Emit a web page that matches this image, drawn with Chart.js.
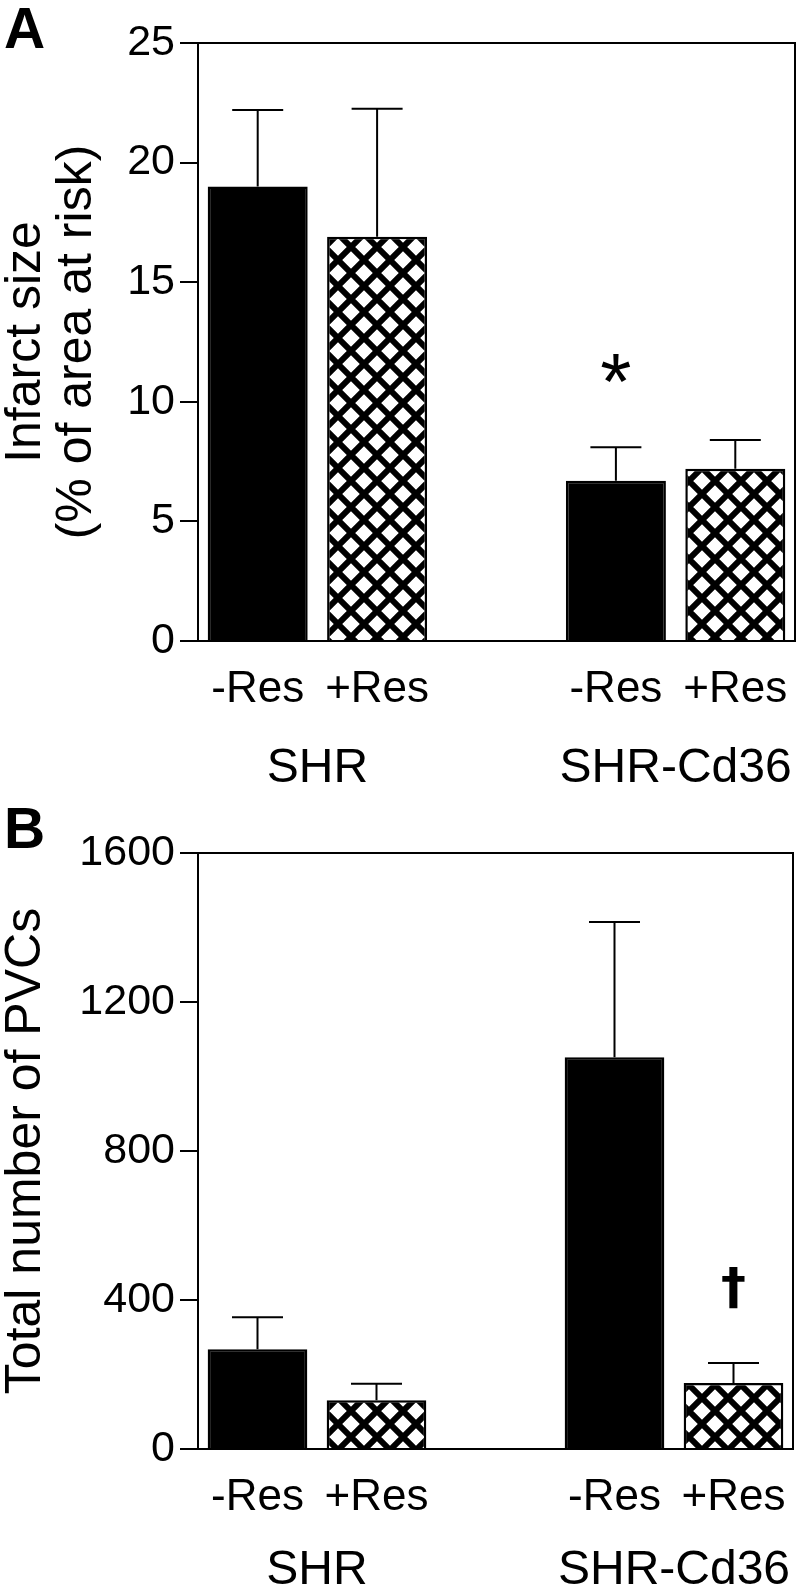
<!DOCTYPE html>
<html>
<head>
<meta charset="utf-8">
<script src="https://cdn.jsdelivr.net/npm/chart.js@4.4.0/dist/chart.umd.min.js"></script>
<style>
  html, body { margin: 0; padding: 0; background: #fff; }
  canvas { display: block; }
</style>
</head>
<body>
<canvas id="chartA" width="800" height="800"></canvas>
<canvas id="chartB" width="800" height="784"></canvas>
<script>
// categories: an empty slot in the middle separates the two strains
const categories = ['-Res', '+Res', '', '-Res', '+Res'];
const groupNames = ['SHR', 'SHR-Cd36'];
const groupSlots = [[0, 1], [3, 4]];

// Panel A - infarct size (% of area at risk), mean + SEM
const infarctMean = [19.0, 16.9, null, 6.7, 7.2];
const infarctSem = [3.2, 5.35, null, 1.4, 1.2];
const infarctTicks = [0, 5, 10, 15, 20, 25];
const infarctMarks = [{slot: 3, value: 11.4, text: '*'}];

// Panel B - total number of PVCs, mean + SEM
const pvcMean = [268, 131, null, 1052, 177];
const pvcSem = [86, 44, null, 363, 54];
const pvcTicks = [0, 400, 800, 1200, 1600];
const pvcMarks = [{slot: 4, value: 432, text: '\u2020'}];

const FONT = "'Liberation Sans', Arial, Helvetica, sans-serif";

// crosshatch fill for the +Res bars
function hatch(ctx) {
    const P = 26;
    const c = document.createElement('canvas');
    c.width = P; c.height = P;
    const g = c.getContext('2d');
    g.fillStyle = '#fff';
    g.fillRect(0, 0, P, P);
    g.strokeStyle = '#000';
    g.lineWidth = 6;
    g.beginPath();
    for (const o of [-P, 0, P]) {
        g.moveTo(o, 0); g.lineTo(o + P, P);
        g.moveTo(o, P); g.lineTo(o + P, 0);
    }
    g.stroke();
    return ctx.createPattern(c, 'repeat');
}

// error bars, frame, group names, significance marks, panel letter
function extras(cfg) {
    return {
        id: 'extras',
        afterDraw(chart) {
            const {ctx, chartArea: a, scales: {x, y}} = chart;
            ctx.save();
            ctx.strokeStyle = '#000';
            ctx.fillStyle = '#000';
            ctx.lineWidth = 2;

            cfg.mean.forEach((m, i) => {
                if (m == null) return;
                const px = x.getPixelForValue(i);
                const y0 = y.getPixelForValue(m);
                const y1 = y.getPixelForValue(m + cfg.sem[i]);
                ctx.beginPath();
                ctx.moveTo(px, y0); ctx.lineTo(px, y1);
                ctx.moveTo(px - 25.5, y1); ctx.lineTo(px + 25.5, y1);
                ctx.stroke();
            });

            ctx.strokeRect(a.left, a.top, a.right - a.left, a.bottom - a.top);

            ctx.font = '48px ' + FONT;
            ctx.textAlign = 'center';
            ctx.textBaseline = 'middle';
            groupNames.forEach((name, g) => {
                const [s0, s1] = groupSlots[g];
                const px = (x.getPixelForValue(s0) + x.getPixelForValue(s1)) / 2;
                ctx.fillText(name, px, a.bottom + cfg.groupGap);
            });

            ctx.font = cfg.markFont;
            ctx.textBaseline = 'alphabetic';
            cfg.marks.forEach(mk => {
                const m = ctx.measureText(mk.text);
                const px = x.getPixelForValue(mk.slot);
                const py = y.getPixelForValue(mk.value);
                ctx.fillText(mk.text, px, py + (m.actualBoundingBoxAscent - m.actualBoundingBoxDescent) / 2);
            });

            ctx.font = 'bold 57px ' + FONT;
            ctx.textAlign = 'left';
            ctx.fillText(cfg.letter, 4, 48);
            ctx.restore();
        }
    };
}

function buildChart(id, cfg) {
    const ctx = document.getElementById(id).getContext('2d');
    const fill = hatch(ctx);
    return new Chart(ctx, {
        type: 'bar',
        data: {
            labels: categories,
            datasets: [{
                data: cfg.mean,
                backgroundColor: c => categories[c.dataIndex] === '-Res' ? '#000' : fill,
                borderColor: '#000',
                borderWidth: 2.5,
                barPercentage: 0.8375,
                categoryPercentage: 1
            }]
        },
        options: {
            responsive: false,
            animation: false,
            events: [],
            layout: {padding: {top: cfg.top, right: cfg.right, left: 0, bottom: 0}},
            plugins: {legend: {display: false}, tooltip: {enabled: false}},
            scales: {
                x: {
                    grid: {display: false, drawTicks: false},
                    border: {display: true, color: '#000', width: 2},
                    ticks: {color: '#000', font: {family: FONT, size: 44, lineHeight: 1.2}, padding: 22, autoSkip: false, maxRotation: 0},
                    afterFit: s => { s.height = cfg.xHeight; s.paddingLeft = 0; s.paddingRight = 0; }
                },
                y: {
                    min: cfg.ticks[0],
                    max: cfg.ticks[cfg.ticks.length - 1],
                    afterBuildTicks: s => { s.ticks = cfg.ticks.map(v => ({value: v})); },
                    grid: {drawOnChartArea: false, color: '#000', lineWidth: 2, tickLength: 18},
                    border: {color: '#000', width: 2},
                    ticks: {color: '#000', font: {family: FONT, size: 43}, padding: 5, callback: v => String(v)},
                    title: {
                        display: true,
                        text: cfg.title,
                        color: '#000',
                        font: {family: FONT, size: 50, lineHeight: 1.02},
                        padding: {top: 1, bottom: 0}
                    },
                    afterFit: s => { s.width = 198; s.paddingTop = 0; s.paddingBottom = 0; }
                }
            }
        },
        plugins: [extras(cfg)]
    });
}

buildChart('chartA', {
    mean: infarctMean, sem: infarctSem, ticks: infarctTicks, marks: infarctMarks,
    title: ['Infarct size', '(% of area at risk)'], letter: 'A',
    markFont: '80px ' + FONT, top: 43, right: 5, xHeight: 159, groupGap: 128
});

buildChart('chartB', {
    mean: pvcMean, sem: pvcSem, ticks: pvcTicks, marks: pvcMarks,
    title: 'Total number of PVCs', letter: 'B',
    markFont: "bold 50px 'DejaVu Sans', " + FONT, top: 53, right: 7, xHeight: 135, groupGap: 122
});
</script>
</body>
</html>
